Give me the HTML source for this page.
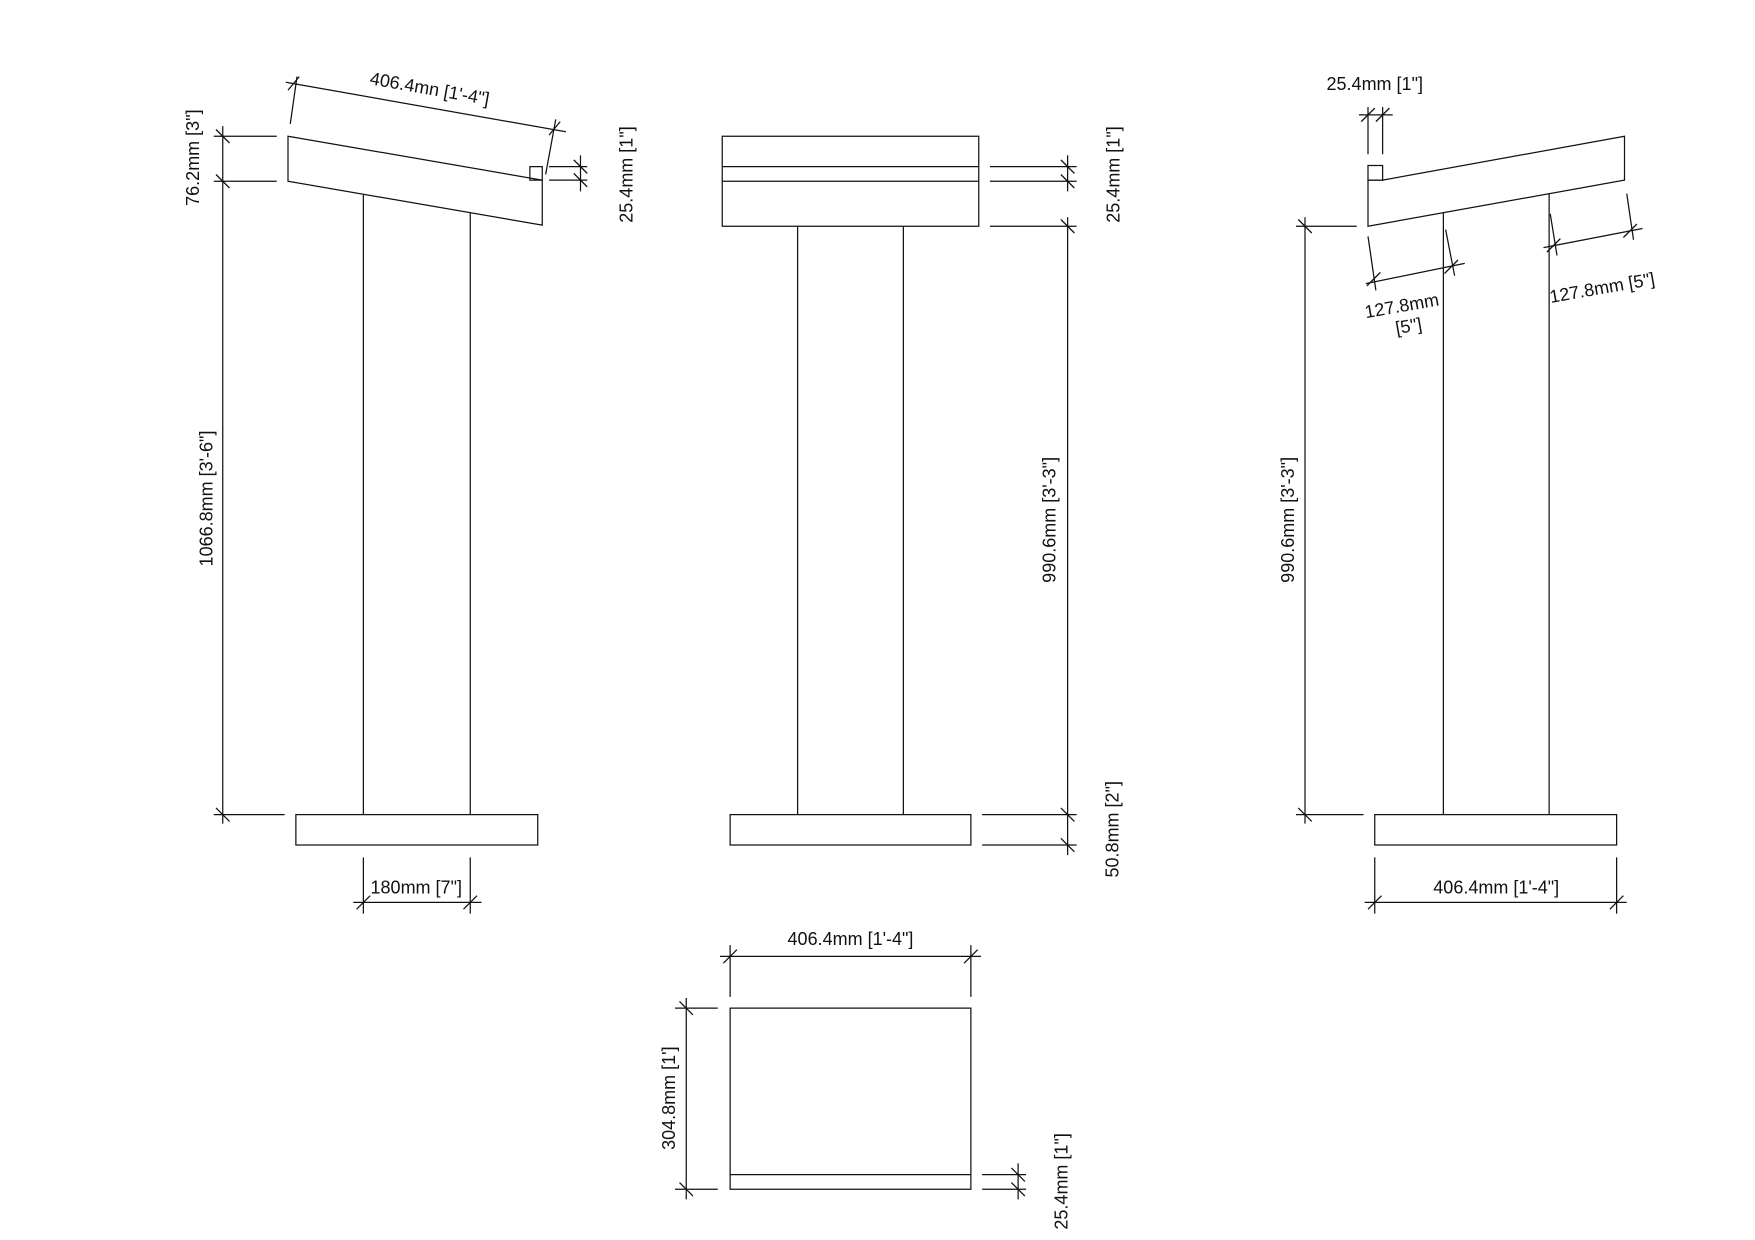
<!DOCTYPE html>
<html><head><style>
html,body{margin:0;padding:0;background:#fff;}
svg{display:block;}
text{font-family:"Liberation Sans",Arial,sans-serif;font-size:16px;fill:#111;}
</style></head><body>
<svg width="1755" height="1240" viewBox="0 0 1560 1102" xmlns="http://www.w3.org/2000/svg">
<g stroke="#111" stroke-width="1.1" fill="none">
<!-- LEFT VIEW -->
<polygon points="256,121 482,160 482,200 256,161"/>
<rect x="471" y="148" width="11" height="12"/>
<line x1="323" y1="173" x2="323" y2="724"/>
<line x1="418" y1="189" x2="418" y2="724"/>
<rect x="263" y="724" width="215" height="27"/>
<!-- 76.2 / 1066.8 dims -->
<line x1="198" y1="112" x2="198" y2="732"/>
<line x1="190" y1="121" x2="246" y2="121"/>
<line x1="190" y1="161" x2="246" y2="161"/>
<line x1="190" y1="724" x2="253" y2="724"/>
<line x1="192" y1="115" x2="204" y2="127"/>
<line x1="192" y1="155" x2="204" y2="167"/>
<line x1="192" y1="718" x2="204" y2="730"/>
<!-- 406.4 slanted -->
<line x1="254" y1="73" x2="503" y2="117"/>
<line x1="258" y1="110" x2="264" y2="68"/>
<line x1="485" y1="155" x2="494" y2="106"/>
<line x1="256" y1="80" x2="266" y2="68"/>
<line x1="488" y1="120" x2="498" y2="108"/>
<!-- 25.4 right -->
<line x1="488" y1="148" x2="522" y2="148"/>
<line x1="488" y1="160" x2="522" y2="160"/>
<line x1="516" y1="138" x2="516" y2="170"/>
<line x1="510" y1="142" x2="522" y2="154"/>
<line x1="510" y1="154" x2="522" y2="166"/>
<!-- 180 -->
<line x1="323" y1="762" x2="323" y2="812"/>
<line x1="418" y1="762" x2="418" y2="812"/>
<line x1="314" y1="802" x2="428" y2="802"/>
<line x1="317" y1="808" x2="329" y2="796"/>
<line x1="412" y1="808" x2="424" y2="796"/>

<!-- MIDDLE VIEW -->
<rect x="642" y="121" width="228" height="80"/>
<line x1="642" y1="148" x2="870" y2="148"/>
<line x1="642" y1="161" x2="870" y2="161"/>
<line x1="709" y1="201" x2="709" y2="724"/>
<line x1="803" y1="201" x2="803" y2="724"/>
<rect x="649" y="724" width="214" height="27"/>
<line x1="880" y1="148" x2="957" y2="148"/>
<line x1="880" y1="161" x2="957" y2="161"/>
<line x1="949" y1="138" x2="949" y2="170"/>
<line x1="943" y1="142" x2="955" y2="154"/>
<line x1="943" y1="155" x2="955" y2="167"/>
<line x1="880" y1="201" x2="957" y2="201"/>
<line x1="873" y1="724" x2="957" y2="724"/>
<line x1="873" y1="751" x2="957" y2="751"/>
<line x1="949" y1="193" x2="949" y2="760"/>
<line x1="943" y1="195" x2="955" y2="207"/>
<line x1="943" y1="718" x2="955" y2="730"/>
<line x1="943" y1="745" x2="955" y2="757"/>

<!-- RIGHT VIEW -->
<polygon points="1229,160 1444,121 1444,160 1216,201 1216,160"/>
<rect x="1216" y="147" width="13" height="13"/>
<line x1="1283" y1="189" x2="1283" y2="724"/>
<line x1="1377" y1="172" x2="1377" y2="724"/>
<rect x="1222" y="724" width="215" height="27"/>
<line x1="1216" y1="95" x2="1216" y2="137"/>
<line x1="1229" y1="95" x2="1229" y2="137"/>
<line x1="1208" y1="102" x2="1238" y2="102"/>
<line x1="1210" y1="108" x2="1222" y2="96"/>
<line x1="1223" y1="108" x2="1235" y2="96"/>
<line x1="1216" y1="210" x2="1223" y2="258"/>
<line x1="1285" y1="204" x2="1293" y2="245"/>
<line x1="1214" y1="252" x2="1302" y2="234"/>
<line x1="1215" y1="254" x2="1227" y2="242"/>
<line x1="1284" y1="243" x2="1296" y2="231"/>
<line x1="1378" y1="190" x2="1384" y2="227"/>
<line x1="1446" y1="172" x2="1452" y2="213"/>
<line x1="1372" y1="220" x2="1460" y2="203"/>
<line x1="1375" y1="224" x2="1387" y2="212"/>
<line x1="1443" y1="211" x2="1455" y2="199"/>
<line x1="1160" y1="193" x2="1160" y2="732"/>
<line x1="1152" y1="201" x2="1206" y2="201"/>
<line x1="1152" y1="724" x2="1212" y2="724"/>
<line x1="1154" y1="195" x2="1166" y2="207"/>
<line x1="1154" y1="718" x2="1166" y2="730"/>
<line x1="1222" y1="762" x2="1222" y2="812"/>
<line x1="1437" y1="762" x2="1437" y2="812"/>
<line x1="1213" y1="802" x2="1446" y2="802"/>
<line x1="1216" y1="808" x2="1228" y2="796"/>
<line x1="1431" y1="808" x2="1443" y2="796"/>

<!-- BOTTOM VIEW -->
<rect x="649" y="896" width="214" height="161"/>
<line x1="649" y1="1044" x2="863" y2="1044"/>
<line x1="649" y1="840" x2="649" y2="886"/>
<line x1="863" y1="840" x2="863" y2="886"/>
<line x1="640" y1="850" x2="872" y2="850"/>
<line x1="643" y1="856" x2="655" y2="844"/>
<line x1="857" y1="856" x2="869" y2="844"/>
<line x1="600" y1="896" x2="638" y2="896"/>
<line x1="600" y1="1057" x2="638" y2="1057"/>
<line x1="610" y1="887" x2="610" y2="1066"/>
<line x1="604" y1="890" x2="616" y2="902"/>
<line x1="604" y1="1051" x2="616" y2="1063"/>
<line x1="873" y1="1044" x2="912" y2="1044"/>
<line x1="873" y1="1057" x2="912" y2="1057"/>
<line x1="905" y1="1034" x2="905" y2="1066"/>
<line x1="899" y1="1038" x2="911" y2="1050"/>
<line x1="899" y1="1051" x2="911" y2="1063"/>
</g>

<g>
<text transform="translate(177,140) rotate(-90)" text-anchor="middle">76.2mm [3"]</text>
<text transform="translate(189,443) rotate(-90)" text-anchor="middle">1066.8mm [3'-6"]</text>
<text transform="translate(381,84) rotate(10)" text-anchor="middle">406.4mn [1'-4"]</text>
<text transform="translate(562,155) rotate(-90)" text-anchor="middle">25.4mm [1"]</text>
<text x="370" y="794" text-anchor="middle">180mm [7"]</text>

<text transform="translate(995,155) rotate(-90)" text-anchor="middle">25.4mm [1"]</text>
<text transform="translate(938,462) rotate(-90)" text-anchor="middle">990.6mm [3'-3"]</text>
<text transform="translate(994,737) rotate(-90)" text-anchor="middle">50.8mm [2"]</text>

<text x="1222" y="80" text-anchor="middle">25.4mm [1"]</text>
<text transform="translate(1247,277) rotate(-10)" text-anchor="middle">127.8mm</text>
<text transform="translate(1253,295) rotate(-10)" text-anchor="middle">[5"]</text>
<text transform="translate(1425,261) rotate(-10)" text-anchor="middle">127.8mm [5"]</text>
<text transform="translate(1150,462) rotate(-90)" text-anchor="middle">990.6mm [3'-3"]</text>
<text x="1330" y="794" text-anchor="middle">406.4mm [1'-4"]</text>

<text x="756" y="840" text-anchor="middle">406.4mm [1'-4"]</text>
<text transform="translate(600,976) rotate(-90)" text-anchor="middle">304.8mm [1']</text>
<text transform="translate(949,1050) rotate(-90)" text-anchor="middle">25.4mm [1"]</text>
</g>
</svg>
</body></html>
